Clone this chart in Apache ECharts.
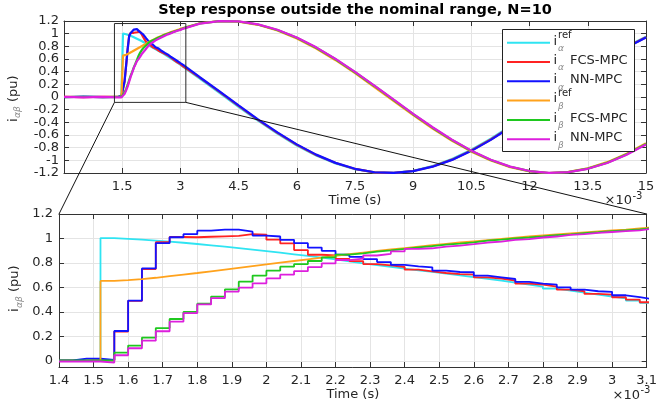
<!DOCTYPE html>
<html><head><meta charset="utf-8">
<script src="https://cdn.jsdelivr.net/npm/echarts@6/dist/echarts.min.js"></script>
<style>html,body{margin:0;padding:0;background:#fff}#c{width:660px;height:405px}</style>
</head><body><div id="c"></div>
<script>
// time values in ms (axes show x10^-3 s)
const preT = [0, 0.5, 1.0];
const zoomT = [1.40,1.44,1.48,1.52,1.56,1.60,1.64,1.68,1.72,1.76,1.80,1.84,1.88,1.92,1.96,2.00,2.04,2.08,2.12,2.16,2.20,2.24,2.28,2.32,2.36,2.40,2.44,2.48,2.52,2.56,2.60,2.64,2.68,2.72,2.76,2.80,2.84,2.88,2.92,2.96,3.00,3.04,3.08,3.12];
const tailT = [3.5,4.0,4.5,5.0,5.5,6.0,6.5,7.0,7.5,8.0,8.5,9.0,9.5,10.0,10.5,11.0,11.5,12.0,12.5,13.0,13.5,14.0,14.5,15.0];

// i_alpha reference
const preRefA = [0, 0, 0];
const zoomRefA = [0,0,0,1.003,0.997,0.990,0.983,0.974,0.965,0.955,0.944,0.933,0.921,0.909,0.897,0.884,0.871,0.858,0.844,0.829,0.813,0.797,0.782,0.768,0.754,0.740,0.727,0.713,0.699,0.685,0.670,0.655,0.639,0.623,0.607,0.590,0.574,0.558,0.542,0.526,0.510,0.492,0.474,0.458];
const tailRefA = [0.290,0.069,-0.155,-0.374,-0.579,-0.765,-0.924,-1.050,-1.140,-1.190,-1.198,-1.165,-1.091,-0.980,-0.834,-0.658,-0.461,-0.247,-0.024,0.200,0.416,0.618,0.798,0.951];
// i_alpha FCS-MPC
const preFcsA = [0.004, -0.003, 0.004];
const zoomFcsA = [0.004,0.004,0.005,0.005,0.240,0.490,0.750,0.970,1.012,1.010,1.014,1.018,1.022,1.035,1.032,0.990,0.960,0.905,0.867,0.862,0.834,0.815,0.791,0.780,0.767,0.745,0.731,0.718,0.708,0.704,0.683,0.672,0.656,0.631,0.623,0.607,0.582,0.569,0.547,0.542,0.520,0.501,0.479,0.470];
const tailFcsA = [0.305,0.085,-0.140,-0.360,-0.566,-0.754,-0.915,-1.043,-1.136,-1.189,-1.199,-1.168,-1.097,-0.989,-0.845,-0.671,-0.475,-0.262,-0.040,0.185,0.402,0.606,0.788,0.944];
// i_alpha NN-MPC
const preNnA = [-0.004, 0.005, -0.003];
const zoomNnA = [0.003,0.018,0.018,0.008,0.244,0.493,0.755,0.962,1.010,1.035,1.064,1.072,1.072,1.056,1.024,1.016,0.989,0.962,0.926,0.899,0.867,0.850,0.832,0.807,0.785,0.772,0.764,0.737,0.726,0.724,0.696,0.683,0.669,0.645,0.631,0.623,0.601,0.582,0.569,0.564,0.536,0.520,0.504,0.495];
const tailNnA = [0.312,0.092,-0.132,-0.352,-0.559,-0.748,-0.910,-1.040,-1.134,-1.188,-1.199,-1.170,-1.100,-0.993,-0.850,-0.677,-0.482,-0.269,-0.047,0.178,0.395,0.600,0.783,0.940];
// i_beta reference
const preRefB = [0, 0, 0];
const zoomRefB = [0,0,0,0.653,0.660,0.668,0.679,0.692,0.705,0.718,0.732,0.746,0.760,0.774,0.788,0.802,0.816,0.830,0.844,0.858,0.872,0.885,0.898,0.910,0.922,0.934,0.945,0.956,0.967,0.977,0.987,0.997,1.007,1.016,1.025,1.034,1.042,1.050,1.058,1.066,1.073,1.083,1.092,1.096];
const tailRefB = [1.164,1.198,1.190,1.140,1.051,0.925,0.766,0.581,0.376,0.158,-0.066,-0.287,-0.499,-0.693,-0.863,-1.003,-1.108,-1.174,-1.200,-1.183,-1.126,-1.029,-0.896,-0.731];
// i_beta FCS-MPC
const preFcsB = [-0.003, 0.004, -0.002];
const zoomFcsB = [0.003,0.003,0.003,0.003,0.068,0.125,0.190,0.268,0.342,0.400,0.467,0.525,0.585,0.647,0.697,0.737,0.770,0.790,0.816,0.845,0.868,0.878,0.892,0.903,0.915,0.928,0.938,0.950,0.958,0.968,0.982,0.990,1.000,1.008,1.017,1.027,1.033,1.043,1.051,1.060,1.067,1.074,1.087,1.090];
const tailFcsB = [1.160,1.198,1.192,1.145,1.058,0.935,0.778,0.595,0.391,0.174,-0.050,-0.272,-0.485,-0.680,-0.852,-0.994,-1.102,-1.171,-1.200,-1.186,-1.131,-1.037,-0.906,-0.743];
// i_beta NN-MPC
const preNnB = [0.003, -0.006, 0.002];
const zoomNnB = [-0.005,-0.005,-0.005,-0.014,0.046,0.103,0.165,0.242,0.320,0.390,0.461,0.512,0.566,0.598,0.634,0.674,0.704,0.733,0.766,0.796,0.824,0.836,0.861,0.875,0.894,0.915,0.920,0.934,0.942,0.954,0.967,0.975,0.989,0.994,1.008,1.016,1.029,1.035,1.045,1.053,1.060,1.067,1.080,1.084];
const tailNnB = [1.158,1.197,1.193,1.147,1.062,0.940,0.784,0.601,0.398,0.181,-0.043,-0.265,-0.478,-0.674,-0.847,-0.990,-1.099,-1.169,-1.199,-1.187,-1.134,-1.041,-0.911,-0.749];

// zoom rectangle drawn on the upper plot (data units)
const rectT = [1.3, 3.14];
const rectV = [-0.085, 1.16];

const traces = [
  {name:'i_alpha ref', color:'#2fe4f2', sup:'ref', sub:'α', label:'', pre:preRefA, zoom:zoomRefA, tail:tailRefA},
  {name:'i_alpha FCS-MPC', color:'#ff2323', sup:'', sub:'α', label:'FCS-MPC', pre:preFcsA, zoom:zoomFcsA, tail:tailFcsA},
  {name:'i_alpha NN-MPC', color:'#1212ff', sup:'', sub:'α', label:'NN-MPC', pre:preNnA, zoom:zoomNnA, tail:tailNnA},
  {name:'i_beta ref', color:'#ffa21c', sup:'ref', sub:'β', label:'', pre:preRefB, zoom:zoomRefB, tail:tailRefB},
  {name:'i_beta FCS-MPC', color:'#1fc81f', sup:'', sub:'β', label:'FCS-MPC', pre:preFcsB, zoom:zoomFcsB, tail:tailFcsB},
  {name:'i_beta NN-MPC', color:'#dd1fdd', sup:'', sub:'β', label:'NN-MPC', pre:preNnB, zoom:zoomNnB, tail:tailNnB}
];

const FONT = '"DejaVu Sans", sans-serif';
const TXT = '#262626';
const AX = '#333333';
const GRIDC = '#e4e4e4';

function pts(ts, vs){ return ts.map((t,i)=>[t, vs[i]]); }
function fmt(v){ const r = Math.round(v*100)/100; return String(r===0?0:r); }
function fmtStep(v){ const k=v/0.2; return Math.abs(k-Math.round(k))<1e-6 ? fmt(v) : ''; }

const chart = echarts.init(document.getElementById('c'), null, {renderer:'canvas'});

const tickStyle = {inside:true, length:5, lineStyle:{color:AX}};
const lineAx = {show:true, onZero:false, lineStyle:{color:AX, width:1}};
const labelStyle = {color:TXT, fontSize:13, fontFamily:FONT};

const series = [];
traces.forEach(tr=>{
  series.push({type:'line', name:tr.name, xAxisIndex:0, yAxisIndex:0, showSymbol:false, symbol:'none',
    data: pts(preT.concat(zoomT, tailT), tr.pre.concat(tr.zoom, tr.tail)),
    lineStyle:{color:tr.color, width:2.2}, itemStyle:{color:tr.color}, z:2, animation:false, silent:true});
});
series.push({type:'line', name:'zoom box', xAxisIndex:0, yAxisIndex:0, showSymbol:false, symbol:'none',
  data:[[rectT[0],rectV[0]],[rectT[1],rectV[0]],[rectT[1],rectV[1]],[rectT[0],rectV[1]],[rectT[0],rectV[0]]],
  lineStyle:{color:'#2a2a2a', width:1}, z:4, animation:false, silent:true});
traces.forEach(tr=>{
  series.push({type:'line', name:tr.name, xAxisIndex:2, yAxisIndex:2, showSymbol:false, symbol:'none', step:'end',
    data: pts(zoomT, tr.zoom),
    lineStyle:{color:tr.color, width:1.8}, itemStyle:{color:tr.color}, z:2, animation:false, silent:true});
});

const option = {
  animation:false,
  backgroundColor:'#ffffff',
  textStyle:{fontFamily:FONT},
  grid:[
    {left:64, top:21, width:582, height:152, show:false},
    {left:59, top:214, width:591.5, height:153, show:false}
  ],
  xAxis:[
    {type:'value', gridIndex:0, min:0, max:15, interval:1.5, position:'bottom',
     axisLine:lineAx, axisTick:tickStyle, splitLine:{show:true, lineStyle:{color:GRIDC}},
     axisLabel:Object.assign({margin:7, interval:0, showMinLabel:true, showMaxLabel:true, hideOverlap:false, formatter:v=> v===0?'':fmt(v)}, labelStyle),
     name:'Time (s)', nameLocation:'middle', nameGap:20, nameTextStyle:labelStyle},
    {type:'value', gridIndex:0, min:0, max:15, interval:1.5, position:'top',
     axisLine:lineAx, axisTick:tickStyle, splitLine:{show:false}, axisLabel:{show:false}},
    {type:'value', gridIndex:1, min:1.4, max:3.1, interval:0.1, position:'bottom',
     axisLine:lineAx, axisTick:tickStyle, splitLine:{show:true, lineStyle:{color:GRIDC}},
     axisLabel:Object.assign({margin:7, interval:0, showMinLabel:true, showMaxLabel:true, hideOverlap:false, formatter:v=>fmt(v)}, labelStyle),
     name:'Time (s)', nameLocation:'middle', nameGap:19, nameTextStyle:labelStyle},
    {type:'value', gridIndex:1, min:1.4, max:3.1, interval:0.1, position:'top',
     axisLine:lineAx, axisTick:tickStyle, splitLine:{show:false}, axisLabel:{show:false}}
  ],
  yAxis:[
    {type:'value', gridIndex:0, min:-1.2, max:1.2, interval:0.2, position:'left',
     axisLine:lineAx, axisTick:tickStyle, splitLine:{show:true, lineStyle:{color:GRIDC}},
     axisLabel:Object.assign({margin:5, interval:0, showMinLabel:false, showMaxLabel:false, hideOverlap:false, formatter:v=>fmt(v)}, labelStyle)},
    {type:'value', gridIndex:0, min:-1.2, max:1.2, interval:0.2, position:'right',
     axisLine:lineAx, axisTick:tickStyle, splitLine:{show:false}, axisLabel:{show:false}},
    {type:'value', gridIndex:1, min:-0.05, max:1.2, splitNumber:6, position:'left',
     axisLine:lineAx, axisTick:tickStyle, splitLine:{show:true, lineStyle:{color:GRIDC}},
     axisLabel:Object.assign({margin:6, interval:0, showMaxLabel:true, hideOverlap:false, formatter:fmtStep}, labelStyle)},
    {type:'value', gridIndex:1, min:-0.05, max:1.2, splitNumber:6, position:'right',
     axisLine:lineAx, axisTick:tickStyle, splitLine:{show:false}, axisLabel:{show:false}},
    // end labels (±1.2) of the upper plot, placed by the same scale
    {type:'value', gridIndex:0, min:-1.2, max:1.2, interval:2.4, position:'left', offset:0,
     axisLine:{show:false, onZero:false}, axisTick:{show:false}, splitLine:{show:false},
     axisLabel:Object.assign({margin:5, interval:0, showMinLabel:true, showMaxLabel:true, hideOverlap:false, formatter:v=>fmt(v)}, labelStyle)}
  ],
  series: series
};
chart.setOption(option);

// annotations: connector lines, title, labels, legend
const p1 = chart.convertToPixel({xAxisIndex:0, yAxisIndex:0}, [rectT[0], rectV[0]]);
const p2 = chart.convertToPixel({xAxisIndex:0, yAxisIndex:0}, [rectT[1], rectV[0]]);
const q1 = chart.convertToPixel({xAxisIndex:2, yAxisIndex:2}, [1.4, 1.2]);
const q2 = chart.convertToPixel({xAxisIndex:2, yAxisIndex:2}, [3.1, 1.2]);

const g = [];
g.push({type:'line', z:50, silent:true, shape:{x1:p1[0],y1:p1[1],x2:q1[0],y2:q1[1]}, style:{stroke:'#111', lineWidth:1}});
g.push({type:'line', z:50, silent:true, shape:{x1:p2[0],y1:p2[1],x2:q2[0],y2:q2[1]}, style:{stroke:'#111', lineWidth:1}});
g.push({type:'text', z:60, x:355, y:10, style:{text:'Step response outside the nominal range, N=10', font:'bold 14.5px '+FONT, fill:'#000', align:'center', verticalAlign:'middle'}});

function yLabel(cx, cy){
  return {type:'group', x:cx, y:cy, rotation:Math.PI/2, z:60, children:[
    {type:'text', x:-23, y:0, style:{text:'i', font:'13px '+FONT, fill:TXT, align:'left', verticalAlign:'middle'}},
    {type:'text', x:-19, y:4.5, style:{text:'αβ', font:'italic 9px '+FONT, fill:'#8a8a8a', align:'left', verticalAlign:'middle'}},
    {type:'text', x:-3, y:0, style:{text:'(pu)', font:'13px '+FONT, fill:TXT, align:'left', verticalAlign:'middle'}}
  ]};
}
g.push(yLabel(13.5, 99));
g.push(yLabel(15, 289));

function expo(xr, yc){
  return [
    {type:'text', z:40, x:xr, y:yc, style:{text:'×10', font:'13px '+FONT, fill:TXT, align:'right', verticalAlign:'middle'}},
    {type:'text', z:40, x:xr+0.5, y:yc-5, style:{text:'-3', font:'10px '+FONT, fill:TXT, align:'left', verticalAlign:'middle'}}
  ];
}
g.push(...expo(632, 201));
g.push(...expo(640, 395.5));

// legend
g.push({type:'rect', z:70, shape:{x:502.5, y:29.5, width:132, height:122}, style:{fill:'#fff', stroke:'#222', lineWidth:1}});
traces.forEach((tr,i)=>{
  const yc = 42.7 + i*19.3;
  g.push({type:'line', z:71, shape:{x1:507, y1:yc, x2:550, y2:yc}, style:{stroke:tr.color, lineWidth:2}});
  g.push({type:'text', z:71, x:553.5, y:yc-1.5, style:{text:'i', font:'13px '+FONT, fill:TXT, verticalAlign:'middle'}});
  if (tr.sup) g.push({type:'text', z:71, x:558, y:yc-7.5, style:{text:tr.sup, font:'10px '+FONT, fill:TXT, verticalAlign:'middle'}});
  g.push({type:'text', z:71, x:558, y:yc+6, style:{text:tr.sub, font:'italic 9px '+FONT, fill:'#8a8a8a', verticalAlign:'middle'}});
  if (tr.label) g.push({type:'text', z:71, x:570, y:yc-1.5, style:{text:tr.label, font:'13px '+FONT, fill:TXT, verticalAlign:'middle'}});
});

chart.setOption({graphic:g});
</script>
</body></html>
